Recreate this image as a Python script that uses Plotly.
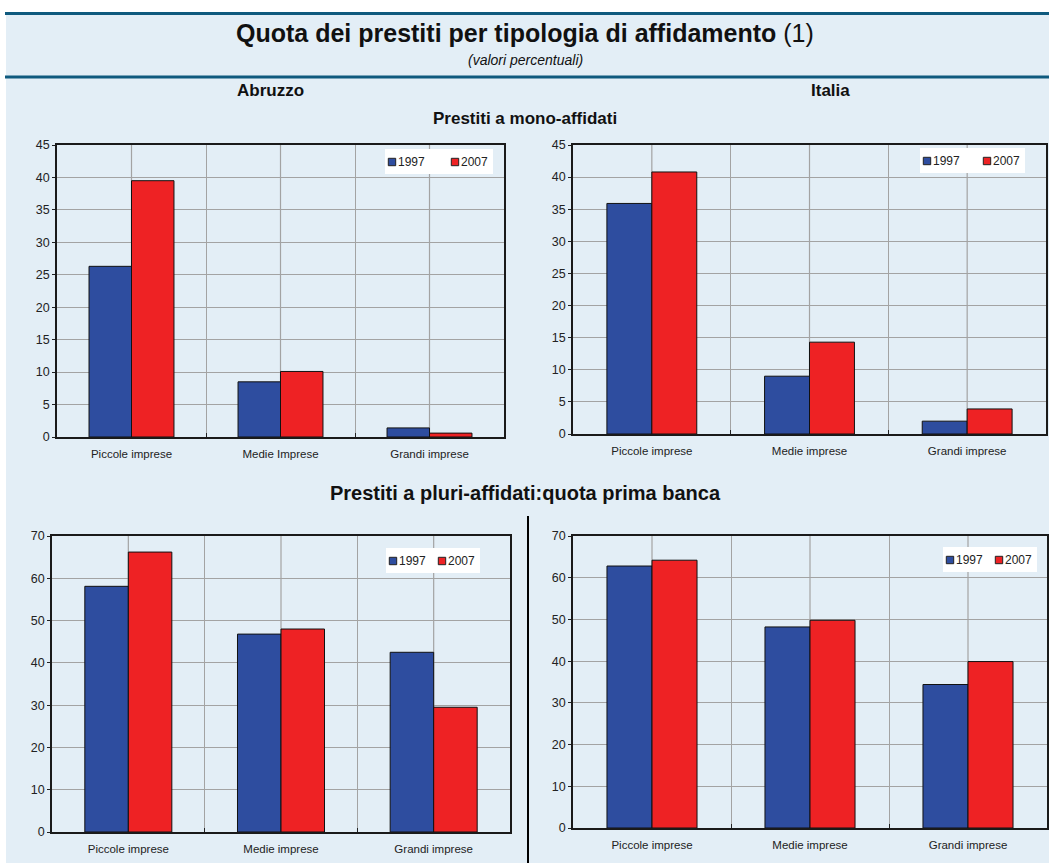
import plotly.graph_objects as go

# ---- data -------------------------------------------------------------
anni = ["1997", "2007"]
categorie_abruzzo_mono = ["Piccole imprese", "Medie Imprese", "Grandi imprese"]
categorie = ["Piccole imprese", "Medie imprese", "Grandi imprese"]

abruzzo_mono_1997 = [26.3, 8.5, 1.4]
abruzzo_mono_2007 = [39.5, 10.1, 0.6]
italia_mono_1997 = [35.9, 9.0, 2.0]
italia_mono_2007 = [40.8, 14.3, 3.9]
abruzzo_pluri_1997 = [58.1, 46.8, 42.5]
abruzzo_pluri_2007 = [66.2, 48.0, 29.5]
italia_pluri_1997 = [62.8, 48.2, 34.4]
italia_pluri_2007 = [64.2, 49.8, 39.9]

# ---- styling ------------------------------------------------------------
W, H = 1049, 863
FONT = "Liberation Sans, Arial, sans-serif"
BLU = "#2E4D9F"
ROSSO = "#EE2224"
SFONDO = "#E3EEF6"
LINEA_TITOLO = "#0F5A7E"
GRIGLIA = "#A3A3A3"


def px(x):
    return x / W


def py(y):
    return 1 - y / H


# panel boxes in pixels: (left, top, right, bottom)
pannelli = [
    dict(box=(57, 145, 504, 437), cats=categorie_abruzzo_mono,
         v97=abruzzo_mono_1997, v07=abruzzo_mono_2007, ymax=45, dt=5,
         leg=(392, 455, 162)),
    dict(box=(573, 145, 1046, 434), cats=categorie,
         v97=italia_mono_1997, v07=italia_mono_2007, ymax=45, dt=5,
         leg=(927, 987, 161)),
    dict(box=(52, 536, 510, 832), cats=categorie,
         v97=abruzzo_pluri_1997, v07=abruzzo_pluri_2007, ymax=70, dt=10,
         leg=(393, 442, 561)),
    dict(box=(573, 536, 1047, 828), cats=categorie,
         v97=italia_pluri_1997, v07=italia_pluri_2007, ymax=70, dt=10,
         leg=(950, 999, 560)),
]

fig = go.Figure()
shapes = []
annotations = []

# page background, rules and divider
shapes.append(dict(type="rect", xref="paper", yref="paper", x0=px(6), x1=1,
                   y0=0, y1=py(14), fillcolor=SFONDO, line_width=0, layer="below"))
for yy in (13.5, 77):
    shapes.append(dict(type="line", xref="paper", yref="paper", x0=px(5), x1=1,
                       y0=py(yy), y1=py(yy),
                       line=dict(color=LINEA_TITOLO, width=3), layer="below"))
shapes.append(dict(type="line", xref="paper", yref="paper", x0=px(528), x1=px(528),
                   y0=py(516), y1=0, line=dict(color="#000000", width=2),
                   layer="above"))

layout_axes = {}
for i, p in enumerate(pannelli, start=1):
    sfx = "" if i == 1 else str(i)
    xname, yname = "x" + sfx, "y" + sfx
    l, t, r, b = p["box"]

    def dx(x, l=l, r=r):
        return (x - l) / (r - l)

    def dy(y, t=t, b=b):
        return (b - y) / (b - t)

    for nome, vals, col in (("1997", p["v97"], BLU), ("2007", p["v07"], ROSSO)):
        fig.add_trace(go.Bar(
            x=p["cats"], y=vals, name=nome, xaxis=xname, yaxis=yname,
            marker=dict(color=col, line=dict(color="#111111", width=1)),
            showlegend=False, hoverinfo="x+y+name"))

    layout_axes["xaxis" + sfx] = dict(
        domain=[px(l), px(r)], anchor=yname, type="category",
        categoryorder="array", categoryarray=p["cats"],
        tickson="boundaries", showgrid=True, gridcolor=GRIGLIA, gridwidth=1.2,
        ticks="inside", ticklen=4, tickcolor="#222222",
        showline=True, linecolor="#1a1a1a", linewidth=1.5, mirror=True,
        tickfont=dict(family=FONT, size=11.5, color="#222222"),
        ticklabelstandoff=5, automargin=False, fixedrange=True)
    layout_axes["yaxis" + sfx] = dict(
        domain=[py(b), py(t)], anchor=xname, range=[0, p["ymax"]],
        tick0=0, dtick=p["dt"], showgrid=True, gridcolor=GRIGLIA, gridwidth=1,
        ticks="outside", ticklen=3, tickcolor="#222222",
        showline=True, linecolor="#1a1a1a", linewidth=1.5, mirror=True,
        zeroline=False,
        tickfont=dict(family=FONT, size=12.5, color="#222222"),
        automargin=False, fixedrange=True)

    # vertical grid lines through the category centres
    for c in p["cats"]:
        shapes.append(dict(type="line", xref=xname, yref=yname + " domain",
                           x0=c, x1=c, y0=0, y1=1,
                           line=dict(color=GRIGLIA, width=1.2), layer="below"))

    # legend: white box over the centre grid line, coloured keys and labels
    x97, x07, yl = p["leg"]
    shapes.append(dict(type="rect", xref=xname + " domain", yref=yname + " domain",
                       x0=dx(x97 - 7), x1=dx(x07 + 38),
                       y0=dy(yl + 12), y1=dy(yl - 13),
                       fillcolor="white", line_width=0, layer="below"))
    for xm, nome, col in ((x97, "1997", BLU), (x07, "2007", ROSSO)):
        shapes.append(dict(type="rect", xref="paper", yref="paper",
                           x0=px(xm - 3.7), x1=px(xm + 3.7),
                           y0=py(yl + 3.7), y1=py(yl - 3.7),
                           fillcolor=col, line=dict(color="#222222", width=1),
                           layer="above"))
        annotations.append(dict(text=nome, xref="paper", yref="paper",
                                x=px(xm + 4), y=py(yl), xanchor="left",
                                yanchor="middle", showarrow=False,
                                font=dict(family=FONT, size=12, color="#222222")))

# titles
testi = [
    ("<b>Quota dei prestiti per tipologia di affidamento</b> (1)", 525, 33, 25),
    ("<i>(valori percentuali)</i>", 525, 60, 14),
    ("<b>Abruzzo</b>", 270, 90, 17),
    ("<b>Italia</b>", 830, 90, 17),
    ("<b>Prestiti a mono-affidati</b>", 525, 118, 17),
    ("<b>Prestiti a pluri-affidati:quota prima banca</b>", 525, 493, 20),
]
for txt, x, y, size in testi:
    annotations.append(dict(text=txt, xref="paper", yref="paper", x=px(x), y=py(y),
                            xanchor="center", yanchor="middle", showarrow=False,
                            font=dict(family=FONT, size=size, color="#111111")))

fig.update_layout(
    width=W, height=H, margin=dict(l=0, r=0, t=0, b=0, autoexpand=False),
    paper_bgcolor="white", plot_bgcolor="white",
    barmode="group", bargap=0.43, bargroupgap=0,
    showlegend=False, shapes=shapes, annotations=annotations,
    font=dict(family=FONT),
    **layout_axes,
)

fig.write_html("out.html")
